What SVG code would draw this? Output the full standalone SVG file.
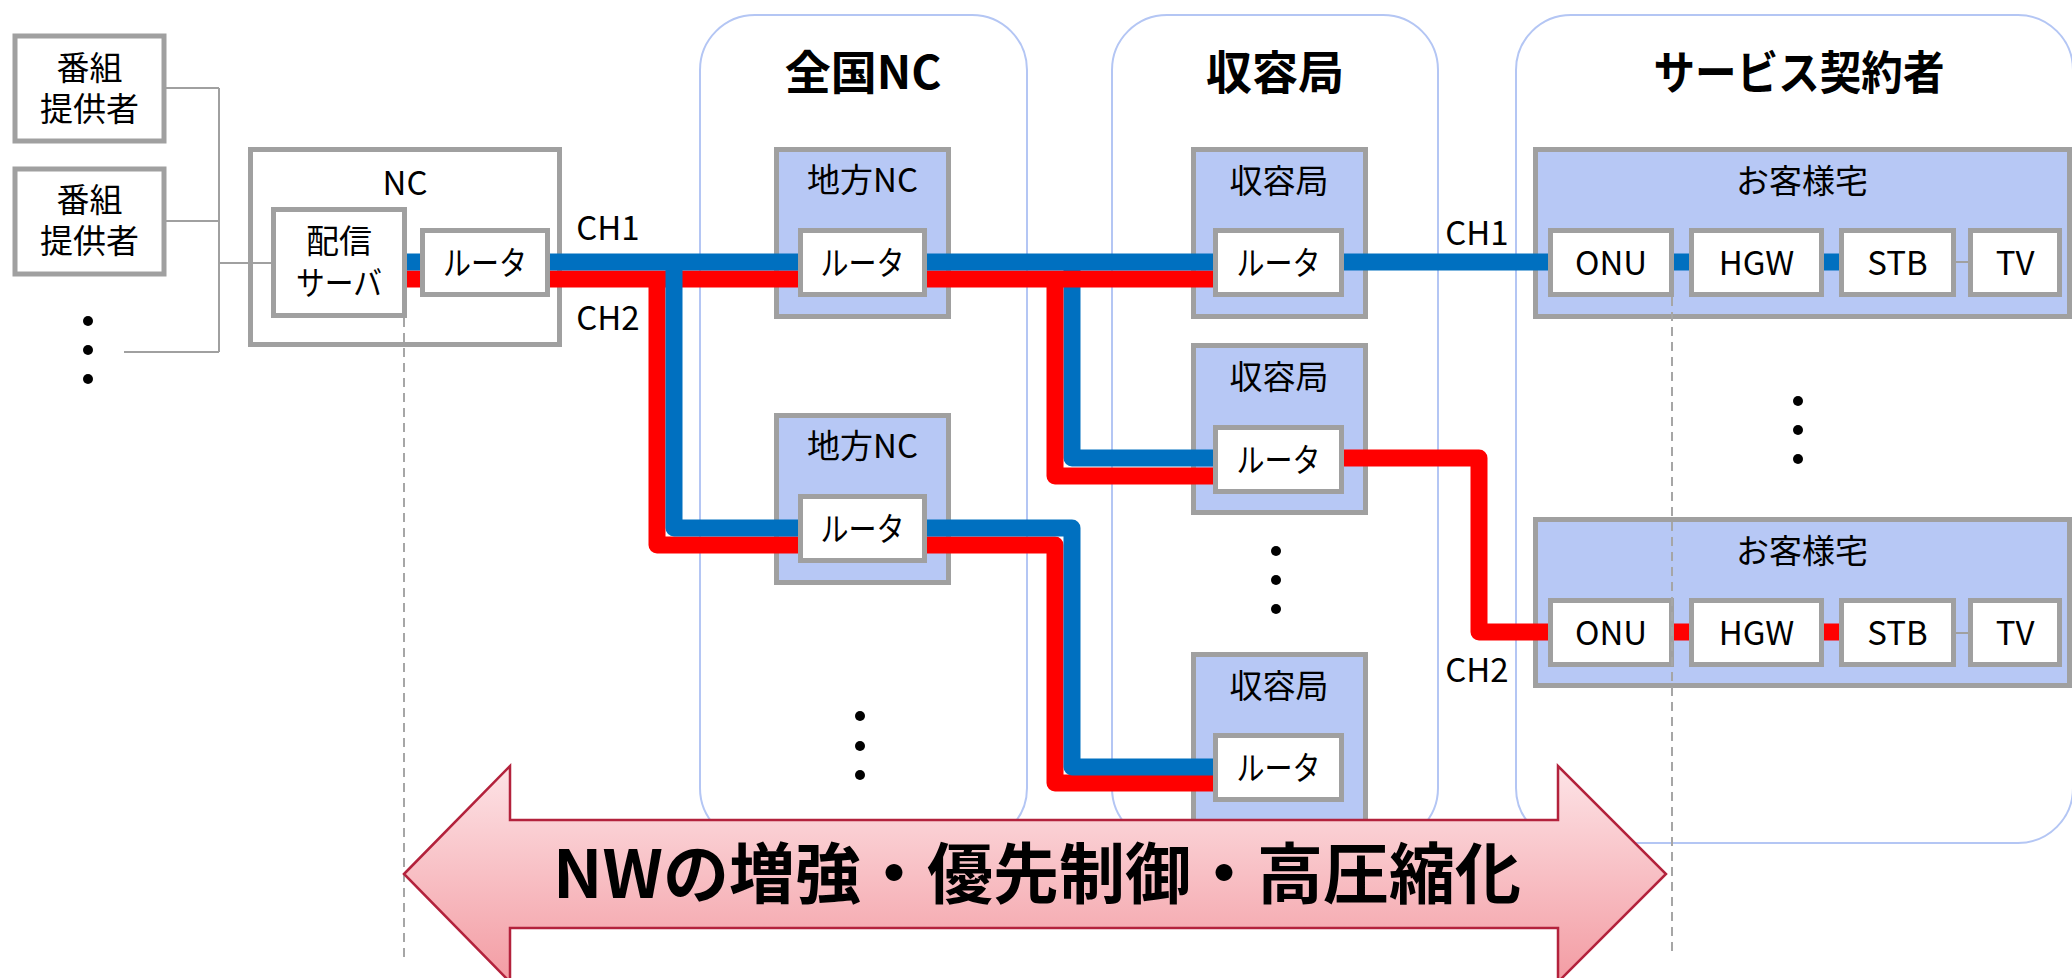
<svg xmlns="http://www.w3.org/2000/svg" width="2072" height="978" viewBox="0 0 2072 978">
<style>
.zone{fill:#fff;stroke:#b4c6f4;stroke-width:2}
.box{fill:#b7c8f5;stroke:#a0a0a0;stroke-width:5}
.wbox{fill:#fff;stroke:#a0a0a0;stroke-width:5}
.t{font-family:"Noto Sans CJK JP","Noto Sans",sans-serif;font-size:33px;fill:#000;text-anchor:middle}
.title{font-weight:700;font-size:46px}
.big{font-weight:700;font-size:66px}
.ln{fill:none;stroke-width:17;stroke-linejoin:round;stroke-linecap:butt}
.blue{stroke:#0070c0}
.red{stroke:#ff0000}
.thin{fill:none;stroke:#a0a0a0;stroke-width:2}
.dash{fill:none;stroke:#a6a6a6;stroke-width:2;stroke-dasharray:9 6}
.dot{fill:#000}
</style>
<defs>
<linearGradient id="arrowGrad" x1="0" y1="0" x2="0" y2="1">
<stop offset="0" stop-color="#fde3e6"/>
<stop offset="1" stop-color="#f39ca3"/>
</linearGradient>
</defs>

<!-- zones -->
<g id="zone-zenkoku-nc">
<rect class="zone" x="700" y="15" width="327" height="828" rx="55" ry="55"/>
<text class="t title" x="863" y="89">全国NC</text>
</g>
<g id="zone-shuyokyoku">
<rect class="zone" x="1112" y="15" width="326" height="828" rx="55" ry="55"/>
<text class="t title" x="1275" y="89">収容局</text>
</g>
<g id="zone-service">
<rect class="zone" x="1516" y="15" width="557" height="828" rx="55" ry="55"/>
<text class="t title" x="1799" y="89" textLength="291" lengthAdjust="spacingAndGlyphs">サービス契約者</text>
</g>

<!-- outer nodes -->
<g id="provider-1">
<rect class="wbox" x="15" y="36" width="149" height="105"/>
<text class="t"><tspan x="89.5" y="80">番組</tspan><tspan x="89.5" y="121">提供者</tspan></text>
</g>
<g id="provider-2">
<rect class="wbox" x="15" y="169" width="149" height="105"/>
<text class="t"><tspan x="89.5" y="212">番組</tspan><tspan x="89.5" y="253">提供者</tspan></text>
</g>
<g id="nc">
<rect class="wbox" x="250.5" y="149.5" width="309" height="195"/>
<text class="t" x="405" y="195">NC</text>
</g>
<g id="chiho-nc-1">
<rect class="box" x="776.5" y="149.5" width="172" height="167"/>
<text class="t" x="862.5" y="192">地方NC</text>
</g>
<g id="chiho-nc-2">
<rect class="box" x="776.5" y="415.5" width="172" height="167"/>
<text class="t" x="862.5" y="458">地方NC</text>
</g>
<g id="shuyo-1">
<rect class="box" x="1193.5" y="149.5" width="172" height="167"/>
<text class="t" x="1279" y="193">収容局</text>
</g>
<g id="shuyo-2">
<rect class="box" x="1193.5" y="345.5" width="172" height="167"/>
<text class="t" x="1279" y="389">収容局</text>
</g>
<g id="shuyo-3">
<rect class="box" x="1193.5" y="654.5" width="172" height="167"/>
<text class="t" x="1279" y="698">収容局</text>
</g>
<g id="home-1">
<rect class="box" x="1535.5" y="149.5" width="534" height="167"/>
<text class="t" x="1802" y="193">お客様宅</text>
</g>
<g id="home-2">
<rect class="box" x="1535.5" y="519.5" width="534" height="166"/>
<text class="t" x="1802" y="563">お客様宅</text>
</g>

<!-- connectors -->
<g id="connectors">
<path class="thin" d="M166 88 H219 M166 221 H219 M124 352 H219 M219 88 V352 M219 263 H272"/>
<path class="ln blue" d="M1072 254 V458 H1214"/>
<path class="ln red" d="M406 279 H421 M549 279 H799 M926 279 H1214"/>
<path class="ln red" d="M657 271 V545 H799"/>
<path class="ln red" d="M1055 271 V476 H1214"/>
<path class="ln red" d="M926 545 H1055 V783 H1213"/>
<path class="ln red" d="M1343 458 H1479 V632 H1549"/>
<path class="ln red" d="M1673 632 H1690 M1823 632 H1840"/>
<path class="ln blue" d="M406 262 H421 M549 262 H799 M926 262 H1214 M1343 262 H1549 M1673 262 H1690 M1823 262 H1840"/>
<path class="ln blue" d="M674 254 V528 H799"/>
<path class="ln blue" d="M926 528 H1072 V767 H1213"/>
<path class="thin" d="M1955 262 H1969 M1955 633 H1969"/>
</g>

<!-- inner nodes -->
<g id="nc-server">
<rect class="wbox" x="273.5" y="209.5" width="131" height="106"/>
<text class="t"><tspan x="339" y="253">配信</tspan><tspan x="339" y="295" textLength="86" lengthAdjust="spacingAndGlyphs">サーバ</tspan></text>
</g>
<g id="nc-router">
<rect class="wbox" x="422.5" y="230.5" width="125" height="64"/>
<text class="t" x="485" y="275" textLength="84" lengthAdjust="spacingAndGlyphs">ルータ</text>
</g>
<g id="chiho-nc-1-router">
<rect class="wbox" x="800.5" y="230.5" width="124" height="64"/>
<text class="t" x="862.5" y="275" textLength="84" lengthAdjust="spacingAndGlyphs">ルータ</text>
</g>
<g id="chiho-nc-2-router">
<rect class="wbox" x="800.5" y="496.5" width="124" height="64"/>
<text class="t" x="862.5" y="541" textLength="84" lengthAdjust="spacingAndGlyphs">ルータ</text>
</g>
<g id="shuyo-1-router">
<rect class="wbox" x="1215.5" y="230.5" width="126" height="64"/>
<text class="t" x="1278.5" y="275" textLength="84" lengthAdjust="spacingAndGlyphs">ルータ</text>
</g>
<g id="shuyo-2-router">
<rect class="wbox" x="1215.5" y="427.5" width="126" height="64"/>
<text class="t" x="1278.5" y="472" textLength="84" lengthAdjust="spacingAndGlyphs">ルータ</text>
</g>
<g id="shuyo-3-router">
<rect class="wbox" x="1215.5" y="735.5" width="126" height="64"/>
<text class="t" x="1278.5" y="780" textLength="84" lengthAdjust="spacingAndGlyphs">ルータ</text>
</g>
<g id="onu-1">
<rect class="wbox" x="1550.5" y="230.5" width="121" height="64"/>
<text class="t" x="1611" y="275">ONU</text>
</g>
<g id="hgw-1">
<rect class="wbox" x="1691.5" y="230.5" width="130" height="64"/>
<text class="t" x="1756.5" y="275">HGW</text>
</g>
<g id="stb-1">
<rect class="wbox" x="1841.5" y="230.5" width="112" height="64"/>
<text class="t" x="1897.5" y="275">STB</text>
</g>
<g id="tv-1">
<rect class="wbox" x="1970.5" y="230.5" width="89" height="64"/>
<text class="t" x="2015" y="275">TV</text>
</g>
<g id="onu-2">
<rect class="wbox" x="1550.5" y="600.5" width="121" height="64"/>
<text class="t" x="1611" y="645">ONU</text>
</g>
<g id="hgw-2">
<rect class="wbox" x="1691.5" y="600.5" width="130" height="64"/>
<text class="t" x="1756.5" y="645">HGW</text>
</g>
<g id="stb-2">
<rect class="wbox" x="1841.5" y="600.5" width="112" height="64"/>
<text class="t" x="1897.5" y="645">STB</text>
</g>
<g id="tv-2">
<rect class="wbox" x="1970.5" y="600.5" width="89" height="64"/>
<text class="t" x="2015" y="645">TV</text>
</g>

<!-- labels -->
<g id="channel-labels">
<text class="t" x="608" y="240">CH1</text>
<text class="t" x="608" y="330">CH2</text>
<text class="t" x="1477" y="245">CH1</text>
<text class="t" x="1477" y="682">CH2</text>
</g>

<!-- dashed boundaries -->
<g id="boundaries">
<path class="dash" d="M404 318 V957 M1672 297 V957"/>
</g>

<!-- ellipsis dots -->
<g id="ellipses">
<circle class="dot" cx="88" cy="321" r="5"/>
<circle class="dot" cx="88" cy="350" r="5"/>
<circle class="dot" cx="88" cy="379" r="5"/>
<circle class="dot" cx="860" cy="716" r="5"/>
<circle class="dot" cx="860" cy="746" r="5"/>
<circle class="dot" cx="860" cy="775" r="5"/>
<circle class="dot" cx="1276" cy="551" r="5"/>
<circle class="dot" cx="1276" cy="580" r="5"/>
<circle class="dot" cx="1276" cy="609" r="5"/>
<circle class="dot" cx="1798" cy="401" r="5"/>
<circle class="dot" cx="1798" cy="430" r="5"/>
<circle class="dot" cx="1798" cy="459" r="5"/>
</g>

<!-- big double arrow -->
<g id="scope-arrow">
<polygon points="404,874 510,766 510,820 1558,820 1558,766 1666,874 1558,982 1558,928 510,928 510,982" fill="url(#arrowGrad)" stroke="#b3223c" stroke-width="2.5" stroke-linejoin="miter"/>
<text class="t big" x="1037" y="898">NWの増強・優先制御・高圧縮化</text>
</g>
</svg>
